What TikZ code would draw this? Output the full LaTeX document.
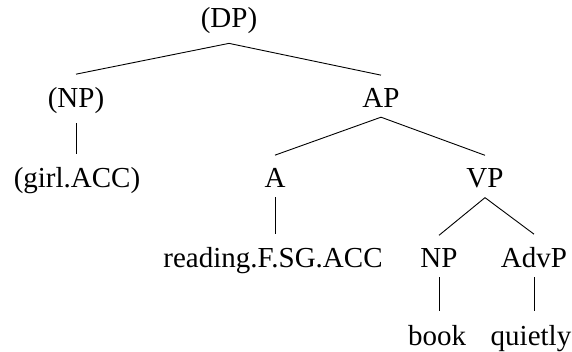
\documentclass[tikz,border=0pt]{standalone}
\usepackage{fontspec}
\setmainfont{Liberation Serif}
\begin{document}
\begin{tikzpicture}[x=1pt,y=-1pt,
  lab/.style={inner sep=0pt, anchor=base, font=\fontsize{29}{35}\selectfont},
  conn/.style={line width=0.9pt}]
\useasboundingbox (0,0) rectangle (572,352);
% row 0
\node[lab] (dp) at (229,28) {(DP)};
% row 1
\node[lab] (np1) at (76,108) {(NP)};
\node[lab] (ap) at (381,108) {AP};
% row 2
\node[lab] (girl) at (77,188) {(girl.ACC)};
\node[lab] (a) at (275,188) {A};
\node[lab] (vp) at (485,188) {VP};
% row 3
\node[lab] (reading) at (273,268) {reading.F.SG.ACC};
\node[lab] (np2) at (439,268) {NP};
\node[lab] (advp) at (534,268) {AdvP};
% row 4
\node[lab] (book) at (437,345) {book};
\node[lab] (quietly) at (531,345) {quietly};
% connectors
\draw[conn] ([yshift=-9pt]dp.south) -- ([yshift=13.5pt]np1.north);
\draw[conn] ([yshift=-9pt]dp.south) -- ([yshift=13.5pt]ap.north);
\draw[conn] ([yshift=-9pt]np1.south) -- ([yshift=13.5pt]np1.south |- girl.north);
\draw[conn] ([yshift=-9pt]ap.south) -- ([yshift=13.5pt]a.north);
\draw[conn] ([yshift=-9pt]ap.south) -- ([yshift=13.5pt]vp.north);
\draw[conn] ([yshift=-9pt]a.south) -- ([yshift=13.5pt]a.south |- reading.north);
\draw[conn] ([yshift=-9pt]vp.south) -- ([yshift=13.5pt]np2.north);
\draw[conn] ([yshift=-9pt]vp.south) -- ([yshift=13.5pt]advp.north);
\draw[conn] ([yshift=-9pt]np2.south) -- ([yshift=13.5pt]np2.south |- book.north);
\draw[conn] ([yshift=-9pt]advp.south) -- ([yshift=13.5pt]advp.south |- quietly.north);
\end{tikzpicture}
\end{document}
